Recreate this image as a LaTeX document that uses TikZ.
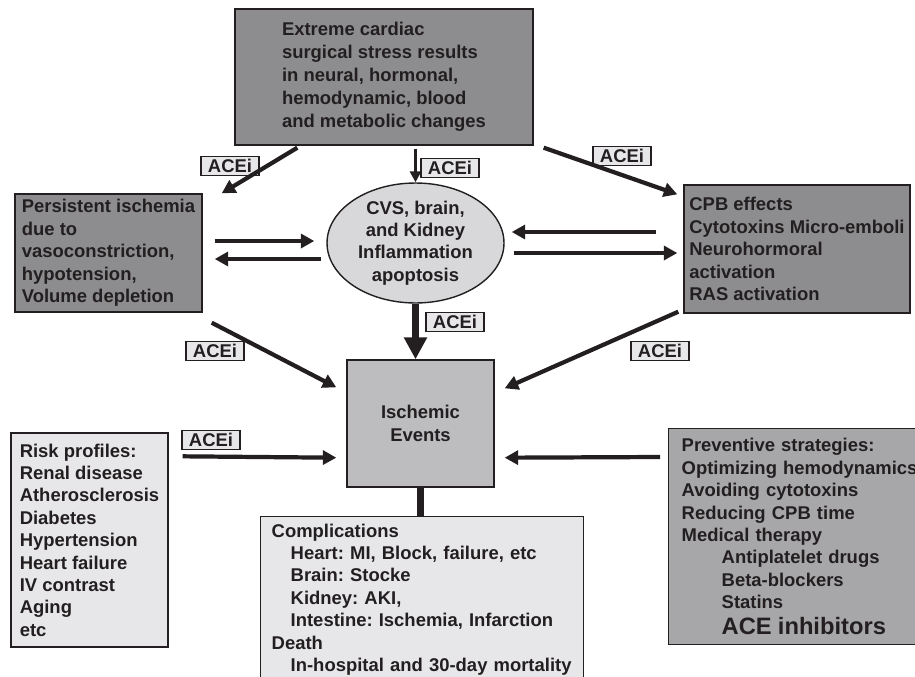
\documentclass[tikz,border=0pt]{standalone}
\usepackage{fontspec}
\setmainfont{Liberation Sans}
\usepackage{tikz}
\usetikzlibrary{arrows.meta,calc,positioning,shapes.geometric}
\frenchspacing

\definecolor{ink}{RGB}{35,31,32}
\definecolor{darkgrey}{RGB}{141,141,143}
\definecolor{midgrey}{RGB}{167,167,169}
\definecolor{boxgrey}{RGB}{189,189,191}
\definecolor{ovalgrey}{RGB}{216,216,218}
\definecolor{palegrey}{RGB}{231,231,233}

\tikzset{
  box/.style={draw=ink, line width=0.8pt, text=ink, font=\fontsize{10.5}{12.75}\selectfont\bfseries, align=left, inner sep=0pt},
  acei/.style={draw=ink, line width=0.6pt, fill=palegrey, text=ink, font=\fontsize{10.5}{12}\selectfont\bfseries, minimum width=1.16cm, minimum height=0.38cm, inner sep=0pt},
  arr/.style={draw=ink, line width=2.4pt, -{Triangle[length=0.27cm,width=0.28cm]}},
  thinarr/.style={draw=ink, line width=1.6pt, -{Triangle[length=0.22cm,width=0.22cm]}},
  fatarr/.style={draw=ink, line width=4pt, -{Triangle[length=0.44cm,width=0.44cm]}}
}

\begin{document}
\begin{tikzpicture}[x=0.02cm, y=-0.02cm]
\useasboundingbox (0,0) rectangle (915,676);
\clip (0,0) rectangle (915,676);

\node[box, fill=darkgrey, font=\fontsize{10.5}{13.1}\selectfont\bfseries, minimum width=5.96cm, minimum height=2.72cm] (stress) at (384,77) {Extreme cardiac\\surgical stress results\\in neural, hormonal,\\hemodynamic, blood\\and metabolic changes};
\node[box, fill=darkgrey, minimum width=3.74cm, minimum height=2.36cm] (ischemia) at (108.5,253) {Persistent ischemia\\due to\\vasoconstriction,\\hypotension,\\Volume depletion};
\node[box, ellipse, fill=ovalgrey, align=center, minimum width=3.54cm, minimum height=2.4cm] (organs) at (415.5,243) {CVS, brain,\\and Kidney\\Inflammation\\apoptosis};
\node[box, fill=darkgrey, minimum width=4.52cm, minimum height=2.56cm] (cpb) at (797,249) {CPB effects\\Cytotoxins Micro-emboli\\Neurohormoral\\activation\\RAS activation};
\node[box, fill=boxgrey, align=center, minimum width=2.94cm, minimum height=2.54cm] (events) at (420.5,423.5) {Ischemic\\Events};
\node[box, fill=palegrey, minimum width=3.14cm, minimum height=4.28cm] (risk) at (89.5,540) {Risk profiles:\\Renal disease\\Atherosclerosis\\Diabetes\\Hypertension\\Heart failure\\IV contrast\\Aging\\etc};
\node[box, fill=palegrey, anchor=north west, text width=6.02cm, inner xsep=0.22cm, inner ysep=0.14cm] (compl) at (260,516) {Complications\\\hspace*{0.38cm}Heart: MI, Block, failure, etc\\\hspace*{0.38cm}Brain: Stocke\\\hspace*{0.38cm}Kidney: AKI,\\\hspace*{0.38cm}Intestine: Ischemia, Infarction\\Death\\\hspace*{0.38cm}In-hospital and 30-day mortality};
\node[box, fill=midgrey, anchor=north west, text width=5.2cm, inner xsep=0.26cm, minimum height=4.32cm] (prevent) at (668,428) {Preventive strategies:\\Optimizing hemodynamics\\Avoiding cytotoxins\\Reducing CPB time\\Medical therapy\\\hspace*{0.8cm}Antiplatelet drugs\\\hspace*{0.8cm}Beta-blockers\\\hspace*{0.8cm}Statins\\[2pt]\hspace*{0.8cm}{\fontsize{13.5}{16}\selectfont ACE inhibitors}};

\node[acei] (acei1) at (230,166) {ACEi};
\node[acei] (acei2) at (450,168) {ACEi};
\node[acei] (acei3) at (622,156) {ACEi};
\node[acei] (acei4) at (455,322) {ACEi};
\node[acei] (acei5) at (215,351) {ACEi};
\node[acei] (acei6) at (660,351) {ACEi};
\node[acei] (acei7) at (211,440) {ACEi};

\draw[arr] ($(stress.south west)+(63,2)$) -- ($(ischemia.north east)+(19,0)$);
\draw[thinarr, shorten <=0.06cm] (organs.north |- stress.south) -- (organs.north);
\draw[arr] ($(stress.south east)+(10,2)$) -- ($(cpb.north west)+(-6,10)$);
\draw[arr] ($(ischemia.east)+(12,-12)$) -- ($(organs.west)+(-12,-2)$);
\draw[arr] ($(organs.west)+(-5,16)$) -- ($(ischemia.east)+(12,6)$);
\draw[arr] ($(cpb.west)+(-27,-17)$) -- ($(organs.east)+(7,-11)$);
\draw[arr] ($(organs.east)+(9,10)$) -- ($(cpb.west)+(-6,4)$);
\draw[fatarr] (organs.south) -- (organs.south |- events.north);
\draw[arr] ($(ischemia.south east)+(9,10)$) -- ($(events.north west)+(-10,28)$);
\draw[arr] ($(cpb.south west)+(-5,-2)$) -- ($(events.north east)+(10,29)$);
\draw[arr] ($(risk.north east)+(14,24)$) -- ($(events.south west)+(-10,-30)$);
\draw[arr] ($(prevent.north west)+(-8,29)$) -- ($(events.south east)+(10,-30)$);
\draw[ink, line width=4.5pt] (events.south) -- (events.south |- compl.north);
\end{tikzpicture}
\end{document}
